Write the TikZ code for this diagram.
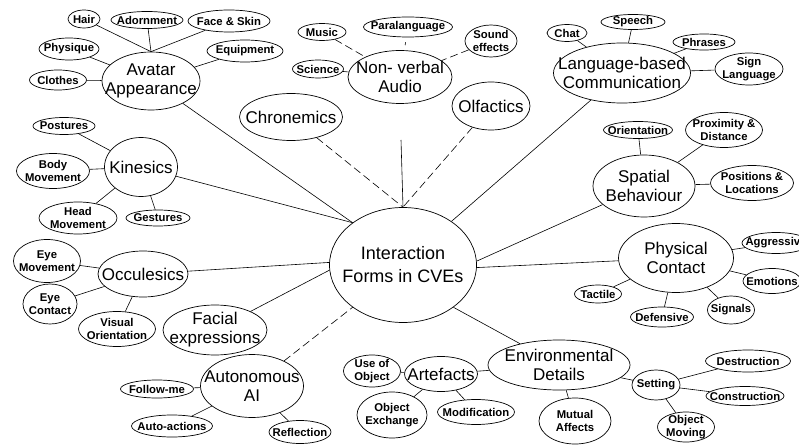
\documentclass[tikz,border=0pt]{standalone}
\usepackage{fontspec}
\setmainfont{Liberation Sans}
\usetikzlibrary{shapes.geometric}
\tikzset{
  bub/.style={ellipse, draw, line width=0.7pt, inner sep=0pt},
  bigtxt/.style={align=center, inner sep=0pt, font=\fontsize{17}{19}\selectfont},
  ctrtxt/.style={align=center, inner sep=0pt, font=\fontsize{18}{23}\selectfont},
  smalltxt/.style={align=center, inner sep=0pt, font=\fontsize{11.3}{12.5}\selectfont\bfseries},
  big/.style n args={3}{bub, minimum width=#1pt, minimum height=#2pt, label={[bigtxt]center:#3}},
  ctr/.style n args={3}{bub, minimum width=#1pt, minimum height=#2pt, label={[ctrtxt]center:#3}},
  small/.style n args={3}{bub, minimum width=#1pt, minimum height=#2pt, label={[smalltxt]center:#3}},
  link/.style={line width=0.6pt},
  dlink/.style={line width=0.6pt, dash pattern=on 8pt off 4pt},
}
\begin{document}
\begin{tikzpicture}[x=1pt,y=-1pt]
\clip (0,0) rectangle (799,446);
\fill[white] (0,0) rectangle (799,446);
% main nodes
\node[ctr={147}{115}{Interaction\\Forms in CVEs}] (c) at (403,265) {};
\node[big={98}{58}{Avatar\\Appearance}] (avatar) at (151,81) {};
\node[big={104}{53}{Non- verbal\\Audio}] (nva) at (400,77) {};
\node[big={137}{60}{Language-based\\Communication}] (lang) at (622,73) {};
\node[big={103}{47}{Chronemics}] (chron) at (291,117) {};
\node[big={78}{48}{Olfactics}] (olf) at (491,106) {};
\node[big={73}{59}{Kinesics}] (kin) at (141,167) {};
\node[big={102}{62}{Spatial\\Behaviour}] (spat) at (644,186) {};
\node[big={90}{46}{Occulesics}] (occ) at (143,274) {};
\node[big={115}{69}{Physical\\Contact}] (phys) at (676,258) {};
\node[big={104}{50}{Facial\\expressions}] (facial) at (215,330) {};
\node[big={103}{63}{Autonomous\\AI}] (auto) at (252,386) {};
\node[big={142}{50}{Environmental\\Details}] (env) at (559,365) {};
\node[big={73}{35}{Artefacts}] (art) at (441,374) {};
% small nodes
\node[small={32}{18}{Hair}] (hair) at (84,19) {};
\node[small={72}{17}{Adornment}] (adorn) at (147,20) {};
\node[small={82}{22}{Face \& Skin}] (face) at (229,21) {};
\node[small={76}{22}{Equipment}] (equip) at (245,51) {};
\node[small={60}{22}{Physique}] (physique) at (69,49) {};
\node[small={57}{20}{Clothes}] (clothes) at (58,80) {};
\node[small={62}{17}{Postures}] (postures) at (64,126) {};
\node[small={73}{35}{Body\\Movement}] (body) at (53,171) {};
\node[small={78}{32}{Head\\Movement}] (head) at (78,218) {};
\node[small={64}{16}{Gestures}] (gest) at (158,218) {};
\node[small={67}{43}{Eye\\Movement}] (eyemov) at (47,261) {};
\node[small={54}{40}{Eye\\Contact}] (eyecon) at (50,304) {};
\node[small={77}{35}{Visual\\Orientation}] (visual) at (117,329) {};
\node[small={73}{18}{Follow-me}] (follow) at (157,389) {};
\node[small={81}{22}{Auto-actions}] (autoact) at (172,426) {};
\node[small={62}{23}{Reflection}] (refl) at (300,432) {};
\node[small={48}{17}{Music}] (music) at (322,32) {};
\node[small={89}{20}{Paralanguage}] (para) at (408,27) {};
\node[small={52}{32}{Sound\\effects}] (sound) at (491,41) {};
\node[small={51}{18}{Science}] (science) at (318,69) {};
\node[small={40}{17}{Chat}] (chat) at (567,33) {};
\node[small={64}{15}{Speech}] (speech) at (633,22) {};
\node[small={62}{16}{Phrases}] (phrases) at (704,42) {};
\node[small={68}{32}{Sign\\Language}] (sign) at (749,69) {};
\node[small={69}{17}{Orientation}] (orient) at (638,130) {};
\node[small={77}{35}{Proximity \&\\Distance}] (prox) at (724,130) {};
\node[small={83}{35}{Positions \&\\Locations}] (pos) at (752,183) {};
\node[small={68}{21}{Aggressive}] (aggr) at (776,243) {};
\node[small={58}{25}{Emotions}] (emo) at (772,281) {};
\node[small={47}{18}{Tactile}] (tactile) at (598,294) {};
\node[small={47}{28}{Signals}] (signals) at (731,310) {};
\node[small={63}{20}{Defensive}] (defensive) at (662,317) {};
\node[small={48}{30}{Setting}] (setting) at (656,385) {};
\node[small={85}{22}{Destruction}] (destr) at (748,361) {};
\node[small={78}{19}{Construction}] (constr) at (745,396) {};
\node[small={57}{30}{Object\\Moving}] (objmov) at (686,427) {};
\node[small={72}{46}{Mutual\\Affects}] (mutual) at (575,421) {};
\node[small={57}{32}{Use of\\Object}] (useobj) at (372,371) {};
\node[small={70}{46}{Object\\Exchange}] (objex) at (392,415) {};
\node[small={77}{25}{Modification}] (modif) at (476,412) {};
\coordinate (nvaend) at (401,140);
% connectors to centre
\draw[link] (avatar) -- (c.140);
\draw[link] (kin) -- (c.140);
\draw[dlink] (chron) -- (c.north);
\draw[link] (nvaend) -- (c.north);
\draw[dlink] (olf) -- (c.north);
\draw[link] (lang) -- (c.42);
\draw[link] (spat) -- (c.3);
\draw[link] (phys) -- (c.-2);
\draw[link] (env) -- (c.-40);
\draw[dlink] (auto) -- (c.-140);
\draw[link] (facial) -- (c.184);
\draw[link] (occ) -- (c.178);
% avatar
\draw[link] (hair) -- (avatar.north);
\draw[link] (adorn) -- (avatar.north);
\draw[link] (face) -- (avatar.north);
\draw[link] (equip) -- (avatar);
\draw[link] (physique) -- (avatar);
\draw[link] (clothes) -- (avatar);
% kinesics
\draw[link] (postures) -- (kin);
\draw[link] (body) -- (kin);
\draw[link] (head) -- (kin);
\draw[link] (gest) -- (kin);
% occulesics
\draw[link] (eyemov) -- (occ);
\draw[link] (eyecon) -- (occ);
\draw[link] (visual) -- (occ);
% autonomous
\draw[link] (follow) -- (auto);
\draw[link] (autoact) -- (auto);
\draw[link] (refl) -- (auto);
% non-verbal audio
\draw[dlink] (music) -- (nva);
\draw[line width=0.6pt, dash pattern=on 0pt off 5pt on 3pt off 20pt] (para) -- (nva);
\draw[dlink] (sound) -- (nva);
\draw[link] (science) -- (nva);
% language
\draw[link] (chat) -- (lang);
\draw[link] (speech) -- (lang);
\draw[link] (phrases) -- (lang);
\draw[link] (sign) -- (lang);
% spatial
\draw[link] (orient) -- (spat);
\draw[link] (prox) -- (spat);
\draw[link] (pos) -- (spat);
% physical
\draw[link] (aggr) -- (phys);
\draw[link] (emo) -- (phys);
\draw[link] (signals) -- (phys);
\draw[link] (tactile) -- (phys);
\draw[link] (defensive) -- (phys);
% environmental
\draw[link] (setting) -- (env);
\draw[link] (art) -- (env);
\draw[link] (mutual) -- (env);
\draw[link] (destr) -- (setting);
\draw[link] (constr) -- (setting);
\draw[link] (objmov) -- (setting);
\draw[link] (useobj) -- (art);
\draw[link] (objex) -- (art);
\draw[link] (modif) -- (art);
\end{tikzpicture}
\end{document}
